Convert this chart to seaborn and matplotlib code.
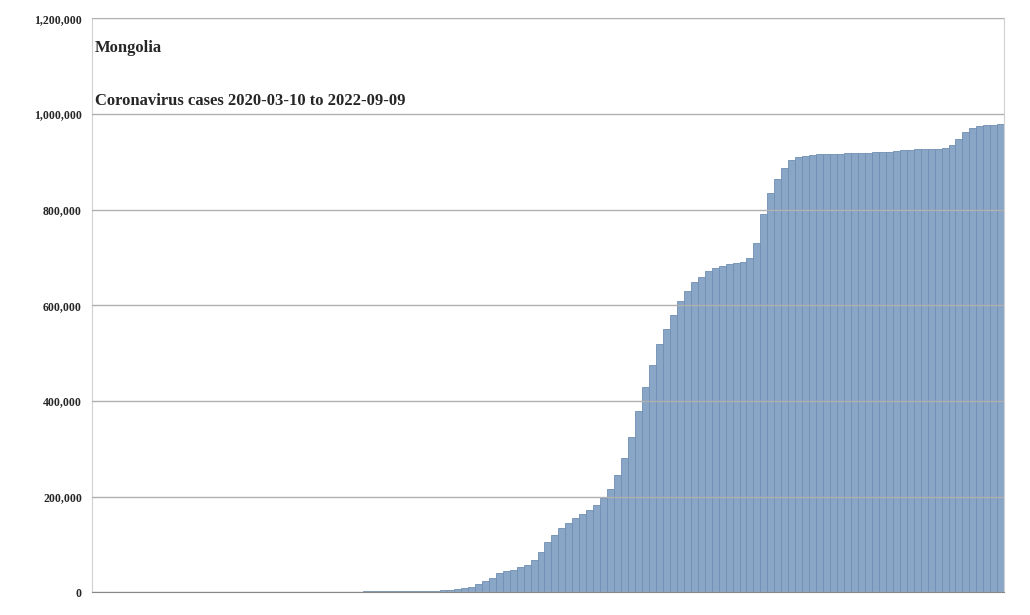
import matplotlib
matplotlib.use("Agg")
import matplotlib.pyplot as plt
import seaborn as sns
import numpy as np

# weekly cumulative cases (estimated from reference), 2020-03-10 .. 2022-09-09
early = [1, 10, 15, 30, 110, 140, 140, 160, 190, 200, 220, 260, 290, 300, 300, 305,
         310, 310, 315, 320, 320, 325, 330, 340, 350, 360, 370, 380, 400, 450,
         600, 800, 900, 1000, 1100, 1200, 1300, 1400, 1500, 1600, 1700, 1800, 1900, 2000,
         2000, 2300, 2600, 2900, 3200, 3600, 4000, 5000, 6500]
growth = [8000, 12000, 17000, 23000, 30000, 40000, 44000, 47000, 52000, 57000,
          68000, 85000, 105000, 120000, 135000, 145000, 155000, 163000, 172000, 182000,
          197000, 215000, 245000, 280000, 325000, 380000, 430000, 475000, 520000, 550000,
          580000, 610000, 630000, 648000, 660000, 672000, 678000, 682000, 686000, 688000,
          690000, 700000, 730000, 790000, 835000, 865000, 888000, 903000, 910000, 913000,
          915000]
plateau = [916000, 916500, 917000, 917500, 918000, 918500, 919000, 919500, 920000,
           920500, 921000, 922000, 924000, 925000, 926000, 927000, 927500, 928000, 929000,
           935000, 948000, 962000, 970000, 975000, 977000, 978000, 980000]
cases = early + growth + plateau
weeks = list(range(len(cases)))

sns.set_style("white")
fig, ax = plt.subplots(figsize=(10.3, 6.15), dpi=100)
fig.subplots_adjust(left=0.089, right=0.975, top=0.97, bottom=0.037)
sns.barplot(x=weeks, y=cases, color="#8aa6c6", width=1.0, edgecolor="#6f8fb3",
            linewidth=0.6, saturation=1, ax=ax, zorder=2)
ax.set_ylim(0, 1200000)
ax.set_xlim(-0.5, len(cases) - 0.5)
ax.set_yticks(np.arange(0, 1200001, 200000))
ax.set_yticklabels([f"{v:,}" for v in range(0, 1200001, 200000)],
                   fontsize=8.5, fontweight="bold", family="Liberation Serif")
ax.set_xticks([])
ax.yaxis.grid(True, color="#b0b0b0", linewidth=1, zorder=3)
ax.set_axisbelow(False)
for s in ["top", "right"]:
    ax.spines[s].set_color("#d0d0d0")
ax.spines["left"].set_color("#d0d0d0")
ax.spines["bottom"].set_color("#888888")
ax.text(0.0,  1130000, "Mongolia", fontsize=12, fontweight="bold", family="Liberation Serif")
ax.text(0.0, 1020000, "Coronavirus cases 2020-03-10 to 2022-09-09", fontsize=12,
        fontweight="bold", family="Liberation Serif")
ax.set_xlabel("")
ax.set_ylabel("")
fig.savefig("out.png", dpi=100)
